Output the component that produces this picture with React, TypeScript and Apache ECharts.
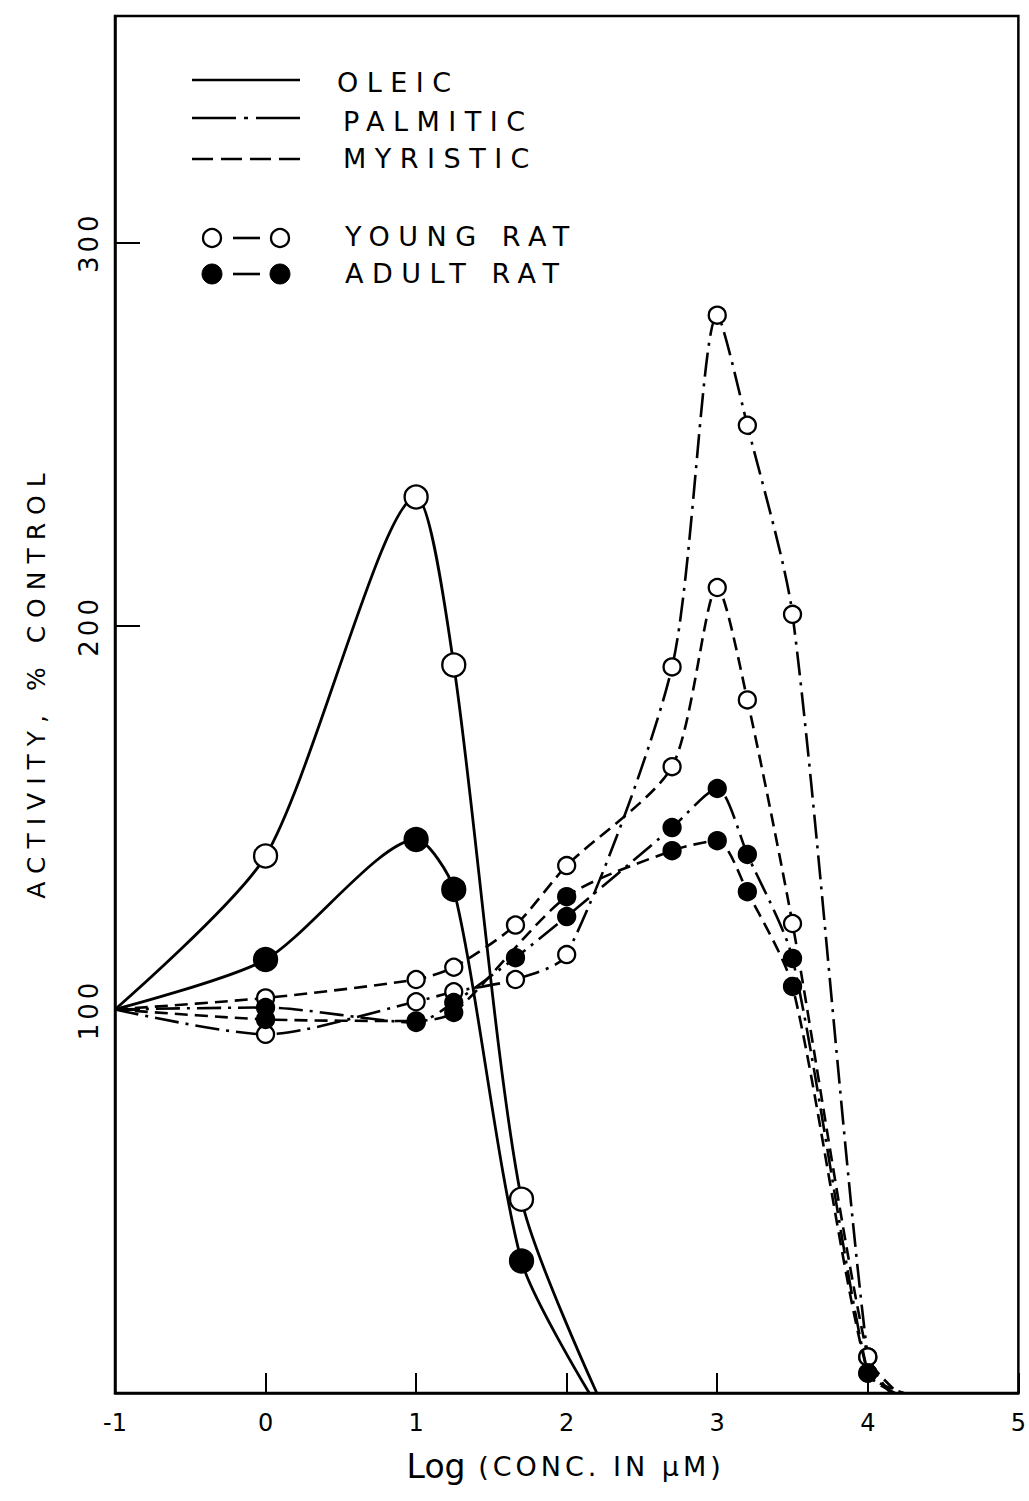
import React, { useEffect, useRef } from "react";
import * as echarts from "echarts";

// ---- data ----
const xTickValues = [-1, 0, 1, 2, 3, 4, 5];
const yTickLabels = [100, 200, 300];

// [log conc, activity % control]
const oleicYoung = [[-1, 100], [0, 140], [1, 233.6], [1.25, 189.8], [1.7, 50.5], [2.2, 0]];
const oleicAdult = [[-1, 100], [0, 113], [1, 144.3], [1.25, 131.3], [1.7, 34.4], [2.15, 0]];
const palmiticYoung = [[-1, 100], [0, 93.5], [1, 102], [1.25, 104.6], [1.66, 107.8], [2, 114.3], [2.7, 189.3], [3, 281], [3.2, 252.3], [3.5, 203], [4, 9.4], [4.15, 0]];
const palmiticAdult = [[-1, 100], [0, 100.5], [1, 96.6], [1.25, 101.8], [1.66, 113.5], [2, 124.2], [2.7, 147.4], [3, 157.6], [3.2, 140.4], [3.5, 113.3], [4, 5.2], [4.18, 0]];
const myristicYoung = [[-1, 100], [0, 103], [1, 107.8], [1.25, 111], [1.66, 122], [2, 137.5], [2.7, 163.3], [3, 210], [3.2, 180.7], [3.5, 122.4], [4, 9.4], [4.2, 0]];
const myristicAdult = [[-1, 100], [0, 97.4], [1, 97], [1.25, 99.2], [2, 129.4], [2.7, 141.4], [3, 144], [3.2, 130.7], [3.5, 106], [4, 5.2], [4.24, 0]];

const acidNames = ["OLEIC", "PALMITIC", "MYRISTIC"];
const ratNames = ["YOUNG RAT", "ADULT RAT"];

const FONT = "'DejaVu Sans', sans-serif";
const DASH_DOT = [24, 7, 3, 7];
const DASHED = [13, 7];

function makeSeries(name: string, data: number[][], dash: any, filled: boolean, size: number, width: number) {
  return {
    name,
    type: "line",
    smooth: 0.25,
    symbol: "circle",
    symbolSize: size,
    showAllSymbol: true,
    data: data.map(([x, y]) => ({
      value: [x, y],
      symbol: x === -1 || y === 0 ? "none" : "circle",
    })),
    lineStyle: { color: "#000", width, type: dash },
    itemStyle: { color: filled ? "#000" : "#fff", borderColor: "#000", borderWidth: 2.3 },
    emphasis: { disabled: true },
    z: filled ? 3 : 2,
  };
}

export default function App() {
  const ref = useRef<HTMLDivElement>(null);

  useEffect(() => {
    if (!ref.current) return;
    const chart = echarts.init(ref.current, null, { renderer: "svg" });
    const legendText = (text: string, x: number, y: number) => ({
      type: "text",
      x,
      y,
      style: {
        text,
        fill: "#000",
        fontSize: 27,
        fontFamily: "lsp9x, 'DejaVu Sans'",
        verticalAlign: "middle",
        align: "left",
      },
    });
    const stroke = { stroke: "#000", lineWidth: 2.6 };
    const option: any = {
      animation: false,
      backgroundColor: "#fff",
      grid: {
        left: 115,
        right: 8,
        top: 16,
        bottom: 108,
        show: true,
        borderColor: "#000",
        borderWidth: 2.5,
        containLabel: false,
      },
      xAxis: {
        type: "value",
        min: -1,
        max: 5,
        interval: 1,
        name: "{a|Log}{b| (CONC. IN μM)}",
        nameLocation: "middle",
        nameGap: 57,
        nameTextStyle: {
          padding: [0, 58, 0, 0],
          rich: {
            a: { fontSize: 33, fontFamily: FONT, color: "#000", align: "left" },
            b: { fontSize: 27, fontFamily: "lsp4x, 'DejaVu Sans'", color: "#000", align: "left" },
          },
        },
        axisLine: { show: true, onZero: false, lineStyle: { color: "#000", width: 2.5 } },
        axisTick: { show: true, inside: true, length: 20, lineStyle: { color: "#000", width: 2 } },
        axisLabel: {
          color: "#000",
          fontSize: 24,
          fontFamily: FONT,
          margin: 18,
          formatter: (v: number) => (xTickValues.includes(v) ? String(v) : ""),
        },
        splitLine: { show: false },
      },
      yAxis: {
        type: "value",
        min: 0,
        max: 359,
        interval: 100,
        name: "ACTIVITY, % CONTROL",
        nameLocation: "middle",
        nameGap: 66,
        nameRotate: 90,
        nameTextStyle: {
          color: "#000",
          fontSize: 25,
          fontFamily: "lsp8x, 'DejaVu Sans'",
          padding: [0, 0, 0, 45],
        },
        axisLine: { show: true, onZero: false, lineStyle: { color: "#000", width: 2.5 } },
        axisTick: { show: true, inside: true, length: 25, lineStyle: { color: "#000", width: 2 } },
        axisLabel: {
          color: "#000",
          fontSize: 26,
          fontFamily: "lsp4x, 'DejaVu Sans'",
          rotate: 90,
          margin: 13,
          formatter: (v: number) => (yTickLabels.includes(v) ? String(v) : ""),
        },
        splitLine: { show: false },
      },
      series: [
        makeSeries("Myristic young", myristicYoung, DASHED, false, 17, 2.6),
        makeSeries("Palmitic young", palmiticYoung, DASH_DOT, false, 17, 2.6),
        makeSeries("Myristic adult", myristicAdult, DASHED, true, 17, 2.6),
        makeSeries("Palmitic adult", palmiticAdult, DASH_DOT, true, 17, 2.6),
        makeSeries("Oleic young", oleicYoung, "solid", false, 23, 2.8),
        makeSeries("Oleic adult", oleicAdult, "solid", true, 23, 2.8),
      ],
      graphic: [
        { type: "line", shape: { x1: 192, y1: 80, x2: 300, y2: 80 }, style: { ...stroke } },
        { type: "line", shape: { x1: 192, y1: 118, x2: 300, y2: 118 }, style: { ...stroke, lineDash: [44, 8, 4, 8] } },
        { type: "line", shape: { x1: 192, y1: 159, x2: 300, y2: 159 }, style: { ...stroke, lineDash: [21, 8] } },
        { type: "circle", shape: { cx: 212, cy: 238, r: 9 }, style: { fill: "#fff", stroke: "#000", lineWidth: 2.3 } },
        { type: "line", shape: { x1: 233, y1: 238, x2: 260, y2: 238 }, style: { ...stroke } },
        { type: "circle", shape: { cx: 280, cy: 238, r: 9 }, style: { fill: "#fff", stroke: "#000", lineWidth: 2.3 } },
        { type: "circle", shape: { cx: 212, cy: 274, r: 10 }, style: { fill: "#000", stroke: "#000", lineWidth: 1 } },
        { type: "line", shape: { x1: 233, y1: 274, x2: 260, y2: 274 }, style: { ...stroke } },
        { type: "circle", shape: { cx: 280, cy: 274, r: 10 }, style: { fill: "#000", stroke: "#000", lineWidth: 1 } },
        legendText(acidNames[0], 337, 82),
        legendText(acidNames[1], 343, 121),
        legendText(acidNames[2], 343, 158),
        legendText(ratNames[0], 345, 236),
        legendText(ratNames[1], 345, 273),
      ],
    };
    chart.setOption(option);
    return () => chart.dispose();
  }, []);

  return (
    <>
      <style>{`
        text[style*="lsp9x"] { letter-spacing: 8.5px; }
        text[style*="lsp4x"] { letter-spacing: 4px; }
        text[style*="lsp8x"] { letter-spacing: 8px; }
      `}</style>
      <div
        ref={ref}
        style={{ position: "absolute", left: 0, top: 0, width: 1029, height: 1501, background: "#fff" }}
      />
    </>
  );
}
